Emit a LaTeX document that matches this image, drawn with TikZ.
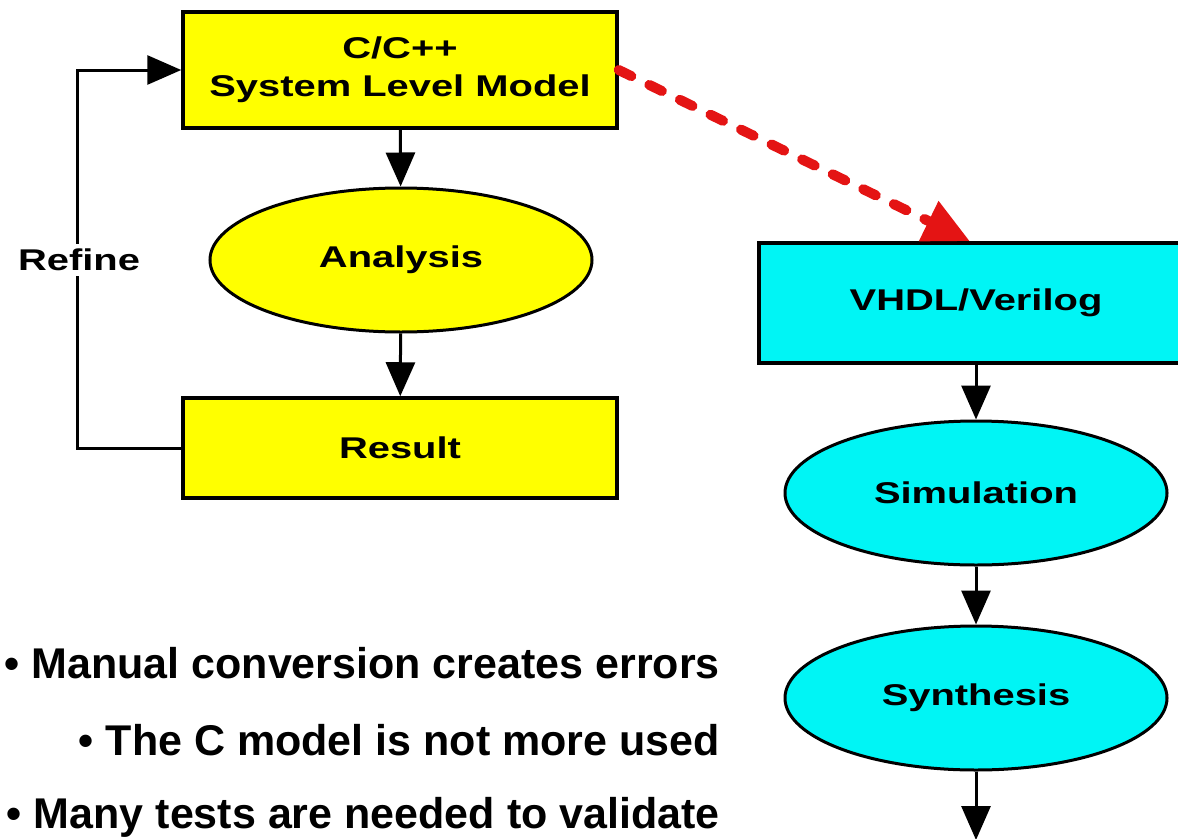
\documentclass[tikz,border=0pt]{standalone}
\usepackage{fontspec}
\setmainfont{Liberation Sans}
\newfontfamily\dfont[FakeStretch=1.33]{Liberation Sans}
\usetikzlibrary{arrows.meta,shapes.geometric}
\definecolor{boxyellow}{RGB}{255,255,0}
\definecolor{boxcyan}{RGB}{0,245,245}
\definecolor{arrred}{RGB}{228,20,20}
\begin{document}
\begin{tikzpicture}[x=1pt,y=-1pt,
  dtext/.style={font=\dfont\bfseries\fontsize{30}{38}\selectfont, align=center},
  box/.style={dtext, draw=black, line width=3.5pt, rectangle, minimum width=434pt, inner sep=0pt},
  oval/.style={dtext, draw=black, line width=3pt, ellipse, minimum width=382pt, minimum height=144pt, inner sep=0pt},
  arr/.style={line width=3pt, -{Triangle[length=34pt,width=29pt]}},
  redarr/.style={draw=arrred, line width=10pt, dash pattern=on 14pt off 20pt, line cap=round, -{Triangle[length=46pt,width=42pt]}},
  bullet/.style={anchor=base east, font=\bfseries\fontsize{43}{43}\selectfont, inner sep=0pt}
]
\useasboundingbox (0,0) rectangle (1178,838);
\clip (0,0) rectangle (1178,838);
\fill[white] (0,0) rectangle (1178,838);

% left flow
\node[box, fill=boxyellow, minimum height=116pt] (top) at (400,70) {C/C++\\System Level Model};
\node[oval, fill=boxyellow] (ana) at (401,260) {Analysis};
\node[box, fill=boxyellow, minimum height=100pt] (res) at (400,448) {Result};

% right flow
\node[box, fill=boxcyan, minimum height=120pt] (vh) at (976,303) {VHDL/Verilog};
\node[oval, fill=boxcyan] (sim) at (976,493) {Simulation};
\node[oval, fill=boxcyan] (syn) at (976,698) {Synthesis};
\coordinate (endc) at (976,840);

% connectors
\draw[arr] (top) -- (ana);
\draw[arr] (ana) -- (res);
\draw[arr] (vh) -- (sim);
\draw[arr] (sim) -- (syn);
\draw[arr] (syn) -- (endc);

% feedback loop
\coordinate (fbb) at (77,448);
\coordinate (fbt) at (77,70);
\draw[arr, line join=miter] (res.west) -- (fbb) -- (fbt) -- (top.west);
\node[dtext, fill=white, inner sep=5pt] (refine) at (79,260) {Refine};

% red dashed conversion arrow
\draw[redarr] (top.east) -- ([xshift=-6pt]vh.north);

% bullet text
\node[bullet] (b1) at (720,678) {• Manual conversion creates errors};
\node[bullet] (b2) at (720,755) {• The C model is not more used};
\node[bullet] (b3) at (720,828) {• Many tests are needed to validate};
\end{tikzpicture}
\end{document}
